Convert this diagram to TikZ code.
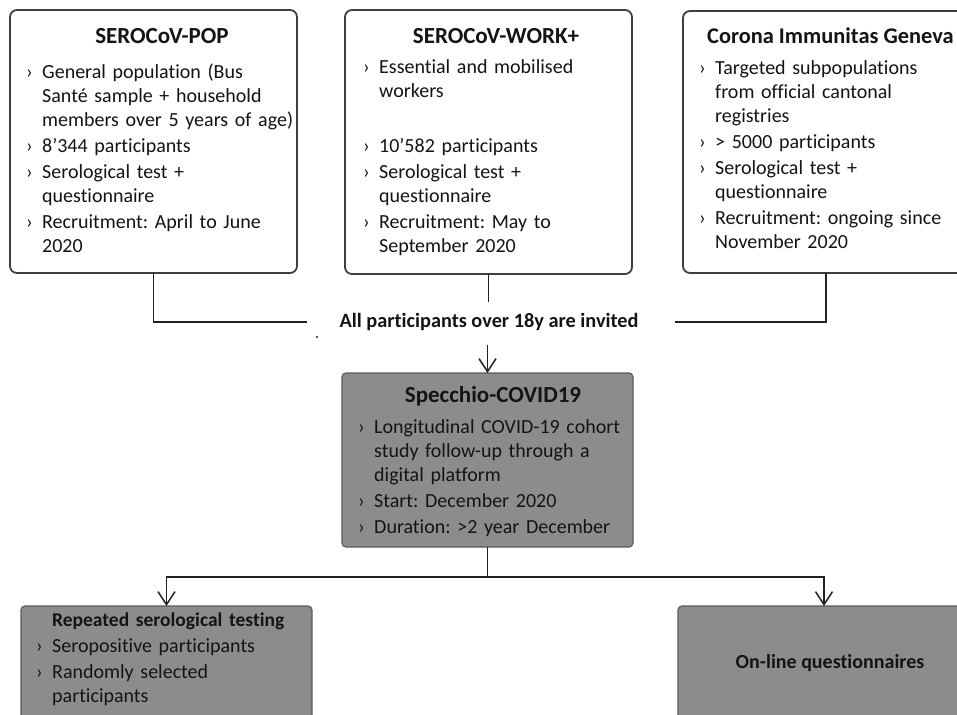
\documentclass[tikz,border=0pt]{standalone}
\usepackage{fontspec}
\setmainfont{Carlito}[Ligatures=NoCommon]
\usetikzlibrary{arrows.meta}
\frenchspacing
\definecolor{bordc}{HTML}{3F3F3F}
\definecolor{grayfill}{HTML}{8C8C8C}
\definecolor{graybord}{HTML}{5A5A5A}
\definecolor{linec}{HTML}{222222}
\newcommand\bu{\makebox[16pt][l]{›}}
\newcommand\ind{\hspace*{16pt}}
\tikzset{
 topbox/.style={draw=bordc, line width=1.8pt, fill=white, rounded corners=7pt, anchor=north west, inner sep=0pt, outer sep=0pt},
 graybox/.style={draw=graybord, line width=1.2pt, fill=grayfill, rounded corners=4pt, anchor=north west, inner sep=0pt, outer sep=0pt},
 body/.style={anchor=base west, inner sep=0pt, text width=320pt, align=left, font=\fontsize{20}{24}\selectfont\frenchspacing, text=black!92},
 ttl/.style={anchor=base, inner sep=0pt, font=\fontsize{23}{27}\selectfont\bfseries, text=black!92},
 conn/.style={draw=linec, line width=1.5pt},
 arr/.style={conn, -{Straight Barb[length=13pt,width=17pt]}},
}
\begin{document}
\begin{tikzpicture}[x=1pt,y=-1pt]
\useasboundingbox (0,0) rectangle (957,714);
\clip (0,0) rectangle (957,714);
% boxes
\node[topbox, minimum width=287pt, minimum height=263pt] (pop) at (10,10) {};
\node[topbox, minimum width=287pt, minimum height=264pt] (work) at (345,10) {};
\node[topbox, minimum width=286pt, minimum height=262pt] (cig) at (683,11) {};
\node[graybox, minimum width=291pt, minimum height=174pt] (spec) at (342,373) {};
\node[graybox, minimum width=291pt, minimum height=130pt] (rep) at (21,606) {};
\node[graybox, minimum width=292pt, minimum height=130pt] (onl) at (678,606) {};
% box texts
\node[ttl] (popt) at (162,44) {SEROCoV-POP};
\node[body] (popb) at (26,79) {\bu General population (Bus\\ \ind Santé sample + household\\ \ind members over 5 years of age)\\[2pt] \bu 8’344 participants\\[2pt] \bu Serological test +\\ \ind questionnaire\\[2pt] \bu Recruitment: April to June\\ \ind 2020};
\node[ttl] (workt) at (496,44) {SEROCoV-WORK+};
\node[body] (workb) at (363,74) {\bu Essential and mobilised\\ \ind workers\\[31pt] \bu 10’582 participants\\[2pt] \bu Serological test +\\ \ind questionnaire\\[2pt] \bu Recruitment: May to\\ \ind September 2020};
\node[ttl, anchor=base west, font=\fontsize{22.4}{27}\selectfont\bfseries] (cigt) at (707,44) {Corona Immunitas Geneva};
\node[body] (cigb) at (699,75) {\bu Targeted subpopulations\\ \ind from official cantonal\\ \ind registries\\[2pt] \bu > 5000 participants\\[2pt] \bu Serological test +\\ \ind questionnaire\\[2pt] \bu Recruitment: ongoing since\\ \ind November 2020};
\node[ttl] (spect) at (493,402) {Specchio-COVID19};
\node[body] (specb) at (358,433) {\bu Longitudinal COVID-19 cohort\\ \ind study follow-up through a\\ \ind digital platform\\[2pt] \bu Start: December 2020\\[2pt] \bu Duration: >2 year December};
\node[body] (repb) at (36,626) {\ind{\fontsize{19.5}{24}\selectfont\bfseries Repeated serological testing}\\[2pt] \bu Seropositive participants\\[2pt] \bu Randomly selected\\ \ind participants};
\node[font=\fontsize{20}{24}\selectfont\bfseries, text=black!92, inner sep=0pt] (onlt) at (830,663) {On-line questionnaires};
% middle label
\node[font=\fontsize{20.3}{24}\selectfont\bfseries, text=black!92, inner sep=0pt] (inv) at (489,322) {All participants over 18y are invited};
% connectors
\coordinate (lend) at (307,322);
\coordinate (wend) at (488.5,302);
\coordinate (rend) at (675,322);
\coordinate (astart) at (487.5,345);
\coordinate (split) at (487.5,577);
\draw[conn] (pop.south) |- (lend);
\draw[conn] (work.south) -- (wend);
\draw[conn] (cig.south) |- (rend);
\draw[arr] (astart) -- (spec.north);
\fill[linec] (317,337) circle (1.1pt);
\draw[conn] (spec.south) -- (split);
\draw[arr] (split) -| (rep.north);
\draw[arr] (split) -| (onl.north);
\end{tikzpicture}
\end{document}
